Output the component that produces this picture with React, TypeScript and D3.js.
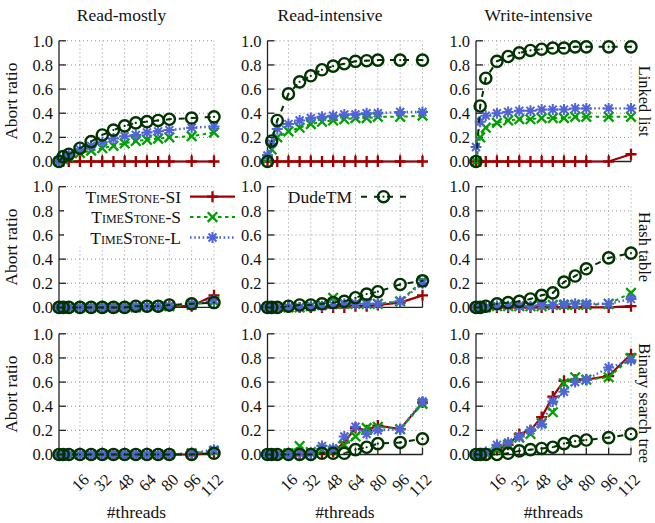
import React, { useEffect, useRef } from 'react';
import * as d3 from 'd3';

// thread counts measured in the runs
const threads = [1, 4, 8, 16, 24, 32, 40, 48, 56, 64, 72, 80, 96, 112];
const xTicks = [16, 32, 48, 64, 80, 96, 112];
const yTicks = [0, 0.2, 0.4, 0.6, 0.8, 1.0];
const workloads = ['Read-mostly', 'Read-intensive', 'Write-intensive'];
const structures = ['Linked list', 'Hash table', 'Binary search tree'];
const seriesNames = ['TimeStone-SI', 'TimeStone-S', 'TimeStone-L', 'DudeTM'];

// Linked list
const llRmSI = [0, 0, 0, 0, 0, 0, 0, 0, 0, 0, 0, 0, 0, 0];
const llRmS = [0, 0.02, 0.04, 0.07, 0.09, 0.11, 0.13, 0.15, 0.17, 0.18, 0.19, 0.2, 0.21, 0.24];
const llRmL = [0, 0.03, 0.06, 0.1, 0.13, 0.16, 0.19, 0.21, 0.22, 0.24, 0.25, 0.26, 0.28, 0.29];
const llRmDude = [0, 0.04, 0.06, 0.11, 0.165, 0.22, 0.26, 0.295, 0.32, 0.33, 0.34, 0.35, 0.36, 0.37];

const llRiSI = [0, 0, 0, 0, 0, 0, 0, 0, 0, 0, 0, 0, 0, 0];
const llRiS = [0.02, 0.1, 0.2, 0.25, 0.28, 0.31, 0.33, 0.34, 0.35, 0.36, 0.36, 0.37, 0.37, 0.38];
const llRiL = [0.05, 0.15, 0.27, 0.31, 0.34, 0.36, 0.37, 0.38, 0.39, 0.39, 0.4, 0.4, 0.41, 0.41];
const llRiDude = [0, 0.17, 0.34, 0.56, 0.66, 0.71, 0.76, 0.79, 0.81, 0.83, 0.835, 0.84, 0.84, 0.84];

const llWiSI = [0, 0, 0, 0, 0, 0, 0, 0, 0, 0, 0, 0, 0, 0.06];
const llWiS = [0, 0.2, 0.28, 0.32, 0.34, 0.35, 0.35, 0.36, 0.36, 0.36, 0.37, 0.37, 0.37, 0.37];
const llWiL = [0.12, 0.33, 0.38, 0.4, 0.41, 0.42, 0.42, 0.43, 0.43, 0.43, 0.44, 0.44, 0.44, 0.44];
const llWiDude = [0, 0.46, 0.69, 0.83, 0.87, 0.9, 0.92, 0.93, 0.94, 0.94, 0.95, 0.95, 0.95, 0.95];

// Hash table
const htRmSI = [0, 0, 0, 0, 0, 0, 0, 0, 0, 0, 0, 0.01, 0.01, 0.1];
const htRmS = [0, 0, 0, 0, 0, 0, 0, 0, 0, 0.01, 0.01, 0.01, 0.02, 0.05];
const htRmL = [0, 0, 0, 0, 0, 0, 0, 0, 0.01, 0.01, 0.01, 0.01, 0.03, 0.06];
const htRmDude = [0, 0, 0, 0, 0, 0, 0, 0, 0.01, 0.01, 0.01, 0.02, 0.03, 0.04];

const htRiSI = [0, 0, 0, 0, 0, 0, 0, 0, 0, 0.01, 0.01, 0.02, 0.04, 0.1];
const htRiS = [0, 0, 0, 0, 0, 0.01, 0.02, 0.08, 0.03, 0.03, 0.03, 0.03, 0.05, 0.22];
const htRiL = [0, 0, 0, 0, 0, 0.01, 0.01, 0.02, 0.03, 0.03, 0.03, 0.03, 0.05, 0.2];
const htRiDude = [0, 0, 0, 0.01, 0.02, 0.02, 0.03, 0.04, 0.05, 0.08, 0.11, 0.13, 0.19, 0.22];

const htWiSI = [0, 0, 0, 0, 0, 0, 0, 0, 0, 0, 0, 0, 0, 0.01];
const htWiS = [0, 0, 0, 0.01, 0.01, 0.01, 0.01, 0.01, 0.02, 0.02, 0.02, 0.02, 0.03, 0.12];
const htWiL = [0, 0, 0, 0.01, 0.01, 0.01, 0.01, 0.02, 0.02, 0.03, 0.03, 0.03, 0.03, 0.07];
const htWiDude = [0, 0, 0.01, 0.03, 0.04, 0.05, 0.07, 0.1, 0.12, 0.21, 0.26, 0.32, 0.41, 0.45];

// Binary search tree
const bstRmSI = [0, 0, 0, 0, 0, 0, 0, 0, 0, 0, 0, 0, 0, 0.01];
const bstRmS = [0, 0, 0, 0, 0, 0, 0, 0, 0, 0, 0, 0, 0.01, 0.03];
const bstRmL = [0, 0, 0, 0, 0, 0, 0, 0, 0, 0, 0, 0, 0.01, 0.04];
const bstRmDude = [0, 0, 0, 0, 0, 0, 0, 0, 0, 0, 0, 0, 0, 0.01];

const bstRiSI = [0, 0, 0, 0, 0, 0.01, 0.01, 0.02, 0.1, 0.22, 0.2, 0.24, 0.21, 0.43];
const bstRiS = [0, 0, 0, 0.01, 0.07, 0.02, 0.04, 0.03, 0.08, 0.15, 0.22, 0.23, 0.21, 0.42];
const bstRiL = [0, 0, 0, 0, 0.01, 0.01, 0.07, 0.05, 0.15, 0.23, 0.17, 0.2, 0.21, 0.44];
const bstRiDude = [0, 0, 0, 0, 0, 0, 0.01, 0.01, 0.01, 0.04, 0.06, 0.09, 0.1, 0.13];

const bstWiSI = [0, 0, 0.01, 0.04, 0.08, 0.17, 0.2, 0.31, 0.48, 0.61, 0.62, 0.62, 0.65, 0.83];
const bstWiS = [0, 0, 0.01, 0.04, 0.08, 0.14, 0.17, 0.26, 0.35, 0.59, 0.64, 0.62, 0.64, 0.8];
const bstWiL = [0, 0.01, 0.02, 0.08, 0.1, 0.15, 0.2, 0.25, 0.44, 0.52, 0.6, 0.62, 0.72, 0.78];
const bstWiDude = [0, 0, 0, 0, 0.01, 0.03, 0.04, 0.05, 0.06, 0.09, 0.11, 0.12, 0.14, 0.17];

const panels = [
  [[llRmSI, llRmS, llRmL, llRmDude], [llRiSI, llRiS, llRiL, llRiDude], [llWiSI, llWiS, llWiL, llWiDude]],
  [[htRmSI, htRmS, htRmL, htRmDude], [htRiSI, htRiS, htRiL, htRiDude], [htWiSI, htWiS, htWiL, htWiDude]],
  [[bstRmSI, bstRmS, bstRmL, bstRmDude], [bstRiSI, bstRiS, bstRiL, bstRiDude], [bstWiSI, bstWiS, bstWiL, bstWiDude]],
];

const styles = [
  { color: '#a00000', dash: null, width: 2.2, marker: 'plus' },
  { color: '#00a000', dash: '3.5,3.5', width: 2, marker: 'cross' },
  { color: '#5064d8', dash: '1.6,2.6', width: 2.4, marker: 'star' },
  { color: '#003300', dash: '6,7', width: 2, marker: 'circle' },
];

const FONT = "'Liberation Serif', 'Times New Roman', serif";
const W = 655;
const H = 523;
const colLeft = [59, 267.5, 476];
const pw = 155;
const rowTop = [40.8, 186.7, 333.8];
const ph = 120.7;

function markerPath(kind: string, s: number) {
  if (kind === 'plus') return `M${-s},0H${s}M0,${-s}V${s}`;
  if (kind === 'cross') return `M${-s},${-s}L${s},${s}M${-s},${s}L${s},${-s}`;
  const d = s * 0.72;
  return `M${-s},0H${s}M0,${-s}V${s}M${-d},${-d}L${d},${d}M${-d},${d}L${d},${-d}`;
}

function drawMarker(g: any, kind: string, color: string, cx: number, cy: number) {
  if (kind === 'circle') {
    g.append('circle').attr('cx', cx).attr('cy', cy).attr('r', 5.6)
      .attr('fill', 'none').attr('stroke', color).attr('stroke-width', 2.4);
    g.append('circle').attr('cx', cx).attr('cy', cy).attr('r', 1.1).attr('fill', color);
    return;
  }
  const size = kind === 'plus' ? 5.5 : kind === 'cross' ? 4.8 : 5.5;
  g.append('path').attr('d', markerPath(kind, size))
    .attr('transform', `translate(${cx},${cy})`)
    .attr('fill', 'none').attr('stroke', color).attr('stroke-width', kind === 'star' ? 2 : 2.3);
}

export default function App() {
  const svgRef = useRef<SVGSVGElement>(null);

  useEffect(() => {
    if (!svgRef.current) return;
    const svg = d3.select(svgRef.current);
    svg.selectAll('*').remove();

    svg.append('rect').attr('width', W).attr('height', H).attr('fill', '#fff');

    const fmt = d3.format('.1f');

    panels.forEach((row, r) => {
      row.forEach((series, c) => {
        const x = d3.scaleLinear().domain([1, 112]).range([colLeft[c], colLeft[c] + pw]);
        const y = d3.scaleLinear().domain([0, 1]).range([rowTop[r] + ph, rowTop[r]]);
        const g = svg.append('g');

        // dotted grid
        g.selectAll('.hg').data(yTicks.filter(t => t > 0)).enter().append('line')
          .attr('x1', x(1)).attr('x2', x(112)).attr('y1', d => y(d)).attr('y2', d => y(d))
          .attr('stroke', '#8f8f8f').attr('stroke-width', 1).attr('stroke-dasharray', '1,3');
        g.selectAll('.vg').data(xTicks).enter().append('line')
          .attr('x1', d => x(d)).attr('x2', d => x(d)).attr('y1', y(0)).attr('y2', y(1))
          .attr('stroke', '#8f8f8f').attr('stroke-width', 1).attr('stroke-dasharray', '1,3');

        // axes
        g.append('line').attr('x1', x(1)).attr('x2', x(1)).attr('y1', y(0)).attr('y2', y(1))
          .attr('stroke', '#222').attr('stroke-width', 1.3);
        g.append('line').attr('x1', x(1)).attr('x2', x(112)).attr('y1', y(0)).attr('y2', y(0))
          .attr('stroke', '#222').attr('stroke-width', 1.3);
        g.selectAll('.yt').data(yTicks).enter().append('line')
          .attr('x1', x(1)).attr('x2', x(1) + 7).attr('y1', d => y(d)).attr('y2', d => y(d))
          .attr('stroke', '#222').attr('stroke-width', 1.3);
        g.selectAll('.xt').data(xTicks).enter().append('line')
          .attr('x1', d => x(d)).attr('x2', d => x(d)).attr('y1', y(0)).attr('y2', y(0) - 7)
          .attr('stroke', '#222').attr('stroke-width', 1.3);
        g.selectAll('.yl').data(yTicks).enter().append('text')
          .attr('x', x(1) - 6).attr('y', d => y(d)).attr('dy', '0.35em')
          .attr('text-anchor', 'end').attr('font-family', FONT).attr('font-size', 16.5)
          .attr('fill', '#111').text(d => fmt(d));

        if (r === 2) {
          g.selectAll('.xl').data(xTicks).enter().append('text')
            .attr('transform', d => `translate(${x(d) + 2},${y(0) + 18}) rotate(-45)`)
            .attr('text-anchor', 'end').attr('dy', '0.7em')
            .attr('font-family', FONT).attr('font-size', 16.5).attr('fill', '#111')
            .text(d => d);
        }

        // series
        series.forEach((vals, si) => {
          const st = styles[si];
          const line = d3.line<number>().x((_, i) => x(threads[i])).y(v => y(v));
          g.append('path').attr('d', line(vals)).attr('fill', 'none')
            .attr('stroke', st.color).attr('stroke-width', st.width)
            .attr('stroke-dasharray', st.dash as any);
          const mg = g.append('g');
          vals.forEach((v, i) => drawMarker(mg, st.marker, st.color, x(threads[i]), y(v)));
        });

        const cx = colLeft[c] + pw / 2;
        const cy = rowTop[r] + ph / 2;
        if (r === 0) {
          svg.append('text').attr('x', cx - 15).attr('y', 21).attr('text-anchor', 'middle')
            .attr('font-family', FONT).attr('font-size', 17.5).attr('fill', '#111')
            .text(workloads[c]);
        }
        if (r === 2) {
          svg.append('text').attr('x', cx).attr('y', 518).attr('text-anchor', 'middle')
            .attr('font-family', FONT).attr('font-size', 17.5).attr('fill', '#111')
            .text('#threads');
        }
        if (c === 0) {
          svg.append('text').attr('transform', `translate(17,${cy}) rotate(-90)`)
            .attr('text-anchor', 'middle').attr('font-family', FONT).attr('font-size', 17.5)
            .attr('fill', '#111').text('Abort ratio');
        }
        if (c === 2) {
          svg.append('text').attr('transform', `translate(639,${cy + (r === 2 ? 9 : 0)}) rotate(90)`)
            .attr('text-anchor', 'middle').attr('font-family', FONT).attr('font-size', 16.5)
            .attr('fill', '#111').text(structures[r]);
        }
      });
    });

    // legend (key of the hash-table / read-mostly panel)
    const lx = colLeft[0] + 122;
    const ly = rowTop[1] + 10;
    const gap = 20.4;
    const leg = svg.append('g');
    leg.append('rect').attr('x', colLeft[0] + 5).attr('y', rowTop[1] + 2)
      .attr('width', pw - 7).attr('height', 58).attr('fill', '#fff');
    seriesNames.forEach((name, i) => {
      const st = styles[i];
      const col = i < 3 ? 0 : 1;
      const rowI = i < 3 ? i : 0;
      const tx = lx + col * 171;
      const ty = ly + rowI * gap;
      const t = leg.append('text').attr('x', tx).attr('y', ty).attr('dy', '0.35em')
        .attr('text-anchor', 'end').attr('font-family', FONT).attr('font-size', 17.5)
        .attr('fill', '#111').text(name);
      if (name.startsWith('TimeStone')) t.style('font-variant', 'small-caps');
      const x1 = tx + 9;
      const x2 = tx + 54;
      leg.append('line').attr('x1', x1).attr('x2', x2).attr('y1', ty).attr('y2', ty)
        .attr('stroke', st.color).attr('stroke-width', st.width)
        .attr('stroke-dasharray', st.dash as any);
      drawMarker(leg, st.marker, st.color, (x1 + x2) / 2, ty);
    });
  }, []);

  return (
    <svg ref={svgRef} width={W} height={H}
      style={{ position: 'absolute', left: 0, top: 0, display: 'block' }} />
  );
}
